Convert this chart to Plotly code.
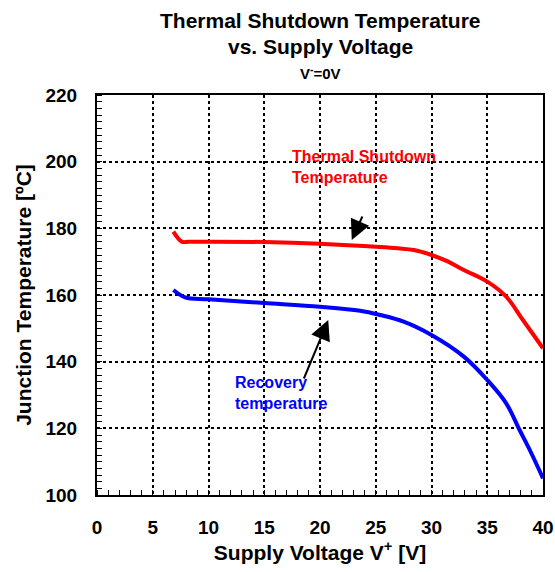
import plotly.graph_objects as go

# Thermal shutdown curve (red)
shutdown_v = [6.85, 7.6, 8.2, 10, 15, 20, 25.4, 27, 28.4, 30, 31.5, 32.9, 35, 36.7, 38.2, 40]
shutdown_t = [179.0, 176.0, 175.95, 176.0, 175.9, 175.4, 174.4, 174.0, 173.5, 172.0, 170.0,
              167.5, 164.0, 159.5, 152.5, 144.0]

# Recovery curve (blue)
recovery_v = [6.85, 7.9, 10, 15, 20, 23.6, 25.4, 27.5, 30, 32.9, 35, 36.7, 37.9, 38.9, 40]
recovery_t = [161.5, 159.3, 158.7, 157.6, 156.5, 155.3, 154.0, 152.0, 148.0, 141.5, 134.5,
              127.5, 119.5, 112.9, 105.0]

x_ticks = [0, 5, 10, 15, 20, 25, 30, 35, 40]
y_ticks = [100, 120, 140, 160, 180, 200, 220]

FONT = "Liberation Sans, Arial, sans-serif"

fig = go.Figure()

fig.add_trace(go.Scatter(
    x=shutdown_v, y=shutdown_t, mode="lines",
    line=dict(color="#ff0000", width=4, shape="spline", smoothing=1.0),
    showlegend=False, hoverinfo="skip"
))
fig.add_trace(go.Scatter(
    x=recovery_v, y=recovery_t, mode="lines",
    line=dict(color="#0000ff", width=4, shape="spline", smoothing=1.0),
    showlegend=False, hoverinfo="skip"
))

axis_common = dict(
    showline=True, linecolor="black", linewidth=2, mirror=True,
    showgrid=True, gridcolor="black", griddash="dot", gridwidth=2,
    zeroline=False, ticks="", ticklen=0, automargin=False,
    ticklabeloverflow="allow",
    tickfont=dict(family=FONT, size=19, color="black", weight="bold"),
)

fig.update_xaxes(
    range=[0, 40], tickvals=x_ticks, ticklabelstandoff=14, **axis_common,
    minor=dict(dtick=1, ticks="inside", ticklen=5, tickcolor="black", showgrid=False),
    title=dict(text="Supply Voltage V<sup>+</sup> [V]", standoff=6,
               font=dict(family=FONT, size=21, color="black", weight="bold")),
)
fig.update_yaxes(
    range=[100, 220], tickvals=y_ticks, ticklabelstandoff=14, **axis_common,
    minor=dict(dtick=2, ticks="inside", ticklen=5, tickcolor="black", showgrid=False),
    title=dict(text="Junction Temperature [ºC]", standoff=8,
               font=dict(family=FONT, size=21, color="black", weight="bold")),
)

annotations = [
    dict(x=17.3, y=198.4, text="Thermal Shutdown<br>Temperature", showarrow=False,
         xanchor="left", yanchor="middle", align="left",
         font=dict(family=FONT, size=16, color="#ff0000", weight="bold")),
    dict(x=12.2, y=130.6, text="Recovery<br>temperature", showarrow=False,
         xanchor="left", yanchor="middle", align="left",
         font=dict(family=FONT, size=16, color="#0000ff", weight="bold")),
    dict(x=22.85, y=176.5, ax=23.86, ay=184.0, axref="x", ayref="y", text="",
         showarrow=True, arrowhead=2, arrowsize=2, arrowwidth=2, arrowcolor="black"),
    dict(x=20.74, y=152.5, ax=18.5, ay=134.5, axref="x", ayref="y", text="",
         showarrow=True, arrowhead=2, arrowsize=2, arrowwidth=2, arrowcolor="black"),
    dict(x=0.5, y=1, xref="paper", yref="paper", yshift=75, showarrow=False,
         text="Thermal Shutdown Temperature", yanchor="middle",
         font=dict(family=FONT, size=21, color="black", weight="bold")),
    dict(x=0.5, y=1, xref="paper", yref="paper", yshift=49, showarrow=False,
         text="vs. Supply Voltage", yanchor="middle",
         font=dict(family=FONT, size=21, color="black", weight="bold")),
    dict(x=0.5, y=1, xref="paper", yref="paper", yshift=23, showarrow=False,
         text="V<sup>-</sup>=0V", yanchor="middle",
         font=dict(family=FONT, size=15, color="black", weight="bold")),
]

fig.update_layout(
    width=555, height=572,
    margin=dict(l=97, r=12, t=95, b=77),
    paper_bgcolor="white", plot_bgcolor="white",
    annotations=annotations,
    font=dict(family=FONT, color="black"),
)

# drop the default page margin so the figure fills the window exactly
fig.write_html("out.html", config={"displayModeBar": False},
               post_script="document.body.style.margin = '0';")
